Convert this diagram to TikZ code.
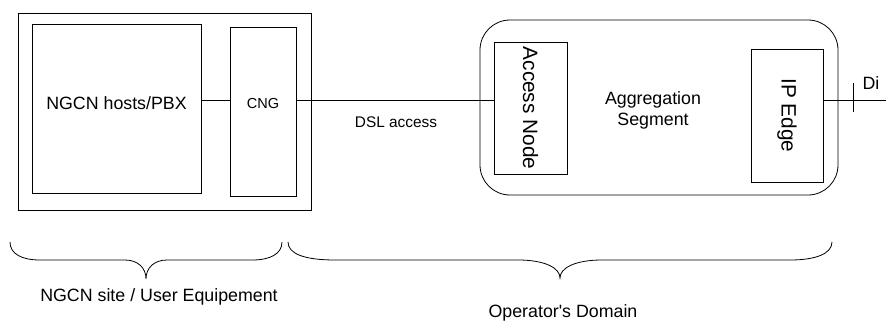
\documentclass[tikz,border=0pt]{standalone}
\usepackage{fontspec}
\setmainfont{Liberation Sans}
\begin{document}
\begin{tikzpicture}[x=1pt,y=-1pt,
  line width=0.8pt,
  box/.style={draw, rectangle, inner sep=0pt},
  big/.style={font=\fontsize{17.8}{21}\selectfont},
  vert/.style={font=\fontsize{20.8}{24}\selectfont},
  txt/.style={inner sep=0pt, align=center}]
\useasboundingbox (0,0) rectangle (886,321);
% user site
\node[box, minimum width=293pt, minimum height=197pt] (site) at (164.5,111.5) {};
\node[box, minimum width=169pt, minimum height=169pt,
      label={[big, yshift=5pt]center:NGCN hosts/PBX}] (ngcn) at (116.5,108.5) {};
\node[box, minimum width=66pt, minimum height=169pt,
      label={[font=\fontsize{14.5}{17}\selectfont, yshift=8pt]center:CNG}] (cng) at (263,111.5) {};
% operator domain
\node[draw, rectangle, rounded corners=30pt, minimum width=358pt, minimum height=175pt] (agg) at (659,107.5) {};
\node[txt, big] (aggtxt) at (653,110.5) {Aggregation\\Segment};
\node[box, rotate=-90, vert, minimum width=132pt, minimum height=73pt] (an) at (530.5,108) {Access Node};
\node[box, rotate=-90, vert, minimum width=133pt, minimum height=72pt] (ip) at (787,115.5) {IP Edge};
% connectors
\coordinate (dend) at (886,100);
\coordinate (ttop) at (853,83);
\coordinate (tbot) at (853,112);
\draw (ngcn.east |- dend) -- (cng.west |- dend);
\draw (cng.east |- dend) -- (an.south |- dend);
\draw (ip.north |- dend) -- (dend);
\draw (ttop) -- (tbot);
\node[txt, big] (di) at (871,83) {Di};
\node[txt, font=\fontsize{15.4}{18}\selectfont] (dsl) at (396,122) {DSL access};
% braces
\draw (10,242) .. controls (10,254) and (22,260) .. (40,260) -- (125,260)
  .. controls (138,260) and (146,268) .. (146,279)
  .. controls (146,268) and (154,260) .. (167,260) -- (252,260)
  .. controls (270,260) and (282,254) .. (282,242);
\draw (288,242) .. controls (288,254) and (305,260) .. (335,260) -- (518,260)
  .. controls (545,260) and (560,268) .. (560,278)
  .. controls (560,268) and (575,260) .. (602,260) -- (790,260)
  .. controls (815,260) and (832,254) .. (832,242);
\node[txt, big] (ue) at (159,297) {NGCN site / User Equipement};
\node[txt, big] (od) at (563,313) {Operator\textquotesingle s Domain};
\end{tikzpicture}
\end{document}
